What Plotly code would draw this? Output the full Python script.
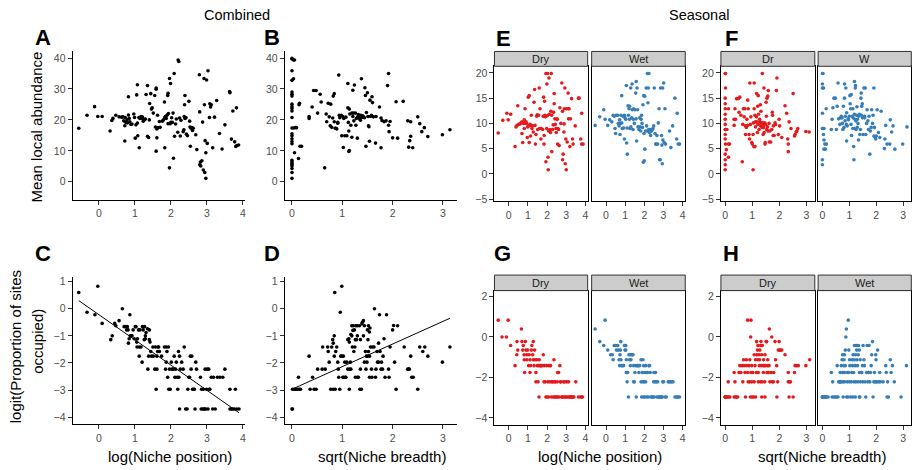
import plotly.graph_objects as go

# ---------------- data ----------------
# A: log(Niche position) vs Mean local abundance (combined)
a_x = [-0.56,-0.33,-0.12,-0.03,0.09,0.31,0.36,0.39,0.47,0.56,
       0.63,0.67,0.69,0.72,0.72,0.73,0.75,0.78,0.79,0.82,
       0.82,0.84,0.86,0.89,0.92,0.97,0.99,1.01,1.03,1.05,
       1.07,1.07,1.08,1.11,1.12,1.14,1.17,1.20,1.21,1.23,
       1.26,1.29,1.31,1.35,1.35,1.38,1.40,1.41,1.44,1.46,
       1.48,1.51,1.55,1.57,1.59,1.59,1.59,1.61,1.61,1.63,
       1.64,1.68,1.70,1.76,1.79,1.82,1.83,1.83,1.85,1.87,
       1.89,1.91,1.92,1.92,1.93,1.96,1.96,1.98,1.99,2.00,
       2.02,2.04,2.06,2.07,2.09,2.10,2.13,2.15,2.19,2.20,
       2.22,2.24,2.26,2.28,2.34,2.36,2.37,2.38,2.39,2.39,
       2.42,2.43,2.46,2.50,2.52,2.53,2.54,2.56,2.58,2.60,
       2.62,2.69,2.72,2.79,2.80,2.80,2.82,2.83,2.86,2.88,
       2.90,2.92,2.93,2.94,2.95,2.97,2.97,2.99,3.01,3.03,
       3.07,3.08,3.10,3.12,3.16,3.21,3.27,3.35,3.42,3.50,
       3.63,3.64,3.68,3.72,3.77,3.80,3.82,3.83,3.88]
a_y = [17.3,21.5,24.3,21.1,21.1,16.4,19.8,20.5,21.5,21.0,
       20.9,21.0,19.7,18.1,13.2,20.8,19.2,20.0,19.0,21.6,
       27.5,20.5,19.4,18.5,18.7,21.9,20.8,14.1,18.4,28.1,
       31.4,19.0,14.9,20.8,11.0,20.5,21.1,20.5,20.9,19.6,
       20.0,20.3,28.2,31.1,14.7,14.3,20.0,25.3,28.5,23.5,
       23.9,22.2,27.9,17.7,29.9,30.3,9.9,14.2,17.1,21.5,
       17.5,19.5,17.6,19.6,20.0,25.8,11.0,20.8,21.1,20.5,
       21.5,27.9,28.6,18.8,22.1,33.4,4.5,18.8,31.8,19.2,
       20.7,19.2,22.2,7.6,35.0,14.7,18.7,20.3,16.0,39.4,
       38.9,20.6,14.8,19.9,16.2,16.8,21.1,24.9,27.9,20.5,
       20.7,15.4,14.9,26.0,19.6,17.7,11.5,17.3,17.5,16.6,
       17.3,15.2,10.4,34.6,22.6,5.5,6.4,5.1,6.8,19.3,
       3.8,33.4,24.9,3.0,13.3,1.1,9.4,32.9,12.4,35.9,
       20.8,25.2,24.2,24.9,11.0,20.9,26.3,15.6,10.6,18.4,
       29.2,28.8,13.8,22.9,12.9,11.4,23.9,11.7,11.9]

# B: sqrt(Niche breadth) vs Mean local abundance (combined)
b_x = [0.0,0.0,0.03,0.05,0.0,0.0,0.03,0.0,0.0,0.0,
       0.0,0.0,0.0,0.0,0.0,0.0,0.03,0.07,0.09,0.0,
       0.0,0.0,0.0,0.0,0.05,0.0,0.0,0.0,0.0,0.0,
       0.0,0.0,0.0,0.15,0.14,0.16,0.19,0.13,0.34,0.34,
       0.40,0.43,0.48,0.51,0.56,0.58,0.65,0.68,0.69,0.72,
       0.74,0.76,0.77,0.79,0.81,0.82,0.84,0.84,0.86,0.87,
       0.89,0.91,0.91,0.93,0.94,0.95,0.98,0.99,1.01,1.02,
       1.03,1.05,1.07,1.09,1.11,1.11,1.12,1.13,1.13,1.14,
       1.14,1.15,1.17,1.19,1.19,1.21,1.21,1.22,1.23,1.24,
       1.26,1.27,1.28,1.30,1.31,1.32,1.34,1.35,1.36,1.37,
       1.38,1.39,1.40,1.42,1.44,1.45,1.46,1.47,1.48,1.50,
       1.51,1.52,1.53,1.54,1.55,1.56,1.58,1.59,1.60,1.62,
       1.66,1.67,1.74,1.77,1.77,1.79,1.83,1.87,1.90,1.92,
       1.92,1.93,1.95,2.00,2.07,2.10,2.21,2.30,2.32,2.34,
       2.36,2.36,2.40,2.50,2.54,2.58,2.63,2.70,2.99,3.14]
b_y = [39.9,39.7,39.4,39.4,35.9,32.8,33.3,29.0,28.3,27.7,
       25.1,24.3,23.7,22.9,20.8,17.4,17.4,17.5,17.5,15.5,
       14.9,13.9,13.0,12.3,9.4,6.9,6.4,5.9,5.5,5.1,
       4.3,3.0,1.1,25.4,24.9,11.5,11.5,7.5,21.1,20.5,
       24.2,29.5,29.5,22.2,28.3,25.8,4.5,21.9,19.4,25.4,
       21.0,18.1,25.1,17.6,20.6,27.7,28.5,19.4,17.3,17.3,
       17.1,18.9,19.2,34.5,21.5,20.7,21.5,14.9,21.1,11.1,
       20.5,14.9,20.9,14.9,31.8,23.9,19.2,16.4,9.8,10.1,
       23.5,21.9,18.3,22.2,14.4,21.1,29.6,22.2,19.7,31.3,
       22.2,18.3,20.5,14.1,21.1,21.7,20.5,21.1,19.9,21.5,
       33.3,20.8,21.3,21.1,20.7,30.4,27.9,11.5,22.4,28.8,
       21.1,18.1,17.8,13.1,26.4,21.1,21.5,27.5,25.6,21.0,
       12.5,21.1,24.2,20.6,11.0,19.8,19.4,19.7,31.1,18.3,
       35.0,16.2,19.5,14.2,25.9,14.1,26.0,19.7,11.2,13.3,
       19.4,14.7,11.0,21.0,18.8,16.2,17.5,14.6,15.2,16.8]

# C: log(Niche position) vs logit(occupancy) (combined)
c_x = [-0.56,-0.33,-0.11,-0.03,0.09,0.33,0.37,0.44,0.47,0.56,
       0.65,0.70,0.75,0.77,0.79,0.81,0.82,0.84,0.86,0.87,
       0.89,0.92,0.95,0.98,1.01,1.03,1.05,1.06,1.07,1.10,
       1.12,1.12,1.14,1.17,1.20,1.21,1.23,1.26,1.27,1.29,
       1.29,1.31,1.35,1.36,1.38,1.40,1.40,1.42,1.44,1.46,
       1.50,1.51,1.55,1.57,1.59,1.61,1.61,1.63,1.64,1.66,
       1.68,1.74,1.82,1.85,1.87,1.87,1.89,1.91,1.93,1.94,
       1.96,1.98,2.01,2.03,2.06,2.09,2.11,2.13,2.15,2.17,
       2.19,2.21,2.22,2.24,2.24,2.26,2.30,2.34,2.37,2.41,
       2.45,2.47,2.50,2.52,2.54,2.56,2.58,2.60,2.64,2.65,
       2.67,2.69,2.71,2.82,2.84,2.85,2.88,2.90,2.92,2.93,
       2.95,2.97,2.99,3.01,3.03,3.05,3.07,3.08,3.12,3.16,
       3.18,3.23,3.29,3.36,3.44,3.50,3.64,3.64,3.68,3.72,
       3.76,3.79,3.83,3.89]
c_y = [0.60,-0.13,-0.22,0.83,-0.54,-1.14,-1.0,-0.54,-0.63,-0.44,
       0.0,-0.66,-0.66,-0.78,-0.66,-0.78,-1.27,-1.11,-0.22,-1.0,
       -1.0,-1.0,-0.78,-1.11,-0.66,-0.66,-1.23,-1.41,-1.11,-0.78,
       -1.75,-1.41,-0.78,-1.41,-1.97,-0.66,-0.78,-1.14,-0.66,-1.0,
       -1.11,-0.88,-0.74,-2.23,-1.75,-0.78,-1.14,-1.23,-1.58,-1.75,
       -1.41,-1.75,-2.23,-1.41,-2.97,-2.23,-1.75,-1.58,-1.41,-1.41,
       -1.58,-1.75,-1.41,-2.23,-1.41,-1.97,-1.58,-2.53,-1.41,-2.97,
       -2.23,-2.97,-1.97,-2.23,-2.23,-1.75,-2.53,-2.23,-1.97,-2.53,
       -2.97,-1.58,-2.53,-1.75,-3.70,-2.23,-1.97,-2.23,-1.41,-3.70,
       -3.70,-2.97,-2.53,-2.53,-1.75,-2.23,-1.75,-2.97,-2.97,-2.97,
       -3.70,-1.97,-2.23,-2.53,-3.70,-2.97,-3.70,-2.97,-3.70,-3.70,
       -2.23,-3.70,-2.97,-2.23,-3.70,-2.23,-2.97,-2.97,-2.53,-3.70,
       -2.53,-3.70,-2.53,-2.53,-2.53,-2.23,-2.97,-3.70,-3.70,-3.70,
       -3.70,-2.97,-3.70,-3.70]
c_fit_intercept, c_fit_slope = -0.22, -0.93

# D: sqrt(Niche breadth) vs logit(occupancy) (combined)
d_x = [0.0,0.01,0.01,0.04,0.07,0.09,0.12,0.15,0.17,0.13,
       0.34,0.36,0.41,0.44,0.48,0.51,0.60,0.61,0.66,0.71,
       0.72,0.74,0.77,0.79,0.81,0.82,0.82,0.84,0.84,0.85,
       0.86,0.87,0.89,0.91,0.92,0.93,0.95,0.96,0.97,0.99,
       0.99,1.01,1.02,1.03,1.05,1.06,1.07,1.09,1.11,1.11,
       1.13,1.14,1.14,1.15,1.16,1.17,1.17,1.19,1.19,1.20,
       1.21,1.22,1.23,1.24,1.25,1.26,1.26,1.27,1.28,1.30,
       1.30,1.30,1.32,1.34,1.35,1.36,1.36,1.38,1.39,1.40,
       1.42,1.42,1.44,1.44,1.46,1.47,1.48,1.49,1.50,1.50,
       1.51,1.52,1.52,1.54,1.54,1.54,1.55,1.56,1.58,1.59,
       1.60,1.63,1.64,1.66,1.67,1.69,1.70,1.72,1.72,1.74,
       1.75,1.77,1.78,1.80,1.81,1.83,1.85,1.88,1.92,1.93,
       1.95,2.00,2.02,2.04,2.07,2.10,2.23,2.30,2.32,2.33,
       2.36,2.38,2.41,2.50,2.54,2.60,2.64,2.70,2.99,3.14]
d_y = [-3.70,-3.70,-2.97,-2.97,-2.97,-2.97,-2.97,-2.97,-2.97,-2.53,
       -1.75,-2.97,-2.53,-2.97,-2.97,-2.23,-2.23,-1.41,-2.23,-1.41,
       -1.58,-1.97,-2.97,-1.41,-1.14,-1.27,-2.97,-1.0,-1.75,0.60,
       -2.97,-1.58,-1.41,-1.97,-2.23,-2.53,-2.97,-0.13,-1.75,0.83,
       -1.75,-2.53,-1.75,-2.53,-1.97,-2.53,-2.53,-1.97,-1.14,-2.23,
       -1.11,-1.23,-2.97,-2.23,-1.97,-0.95,-2.23,-1.0,-0.63,-1.41,
       -0.80,-0.63,-1.58,-0.78,-1.41,-2.53,-1.14,-0.63,-1.14,-1.0,
       -2.53,-0.63,-2.53,-0.63,-2.97,-2.23,-1.14,-2.97,-0.56,-0.50,
       -0.44,-1.0,-0.63,-1.97,-1.58,-2.23,-1.75,-1.97,-1.75,-0.78,
       -1.14,-0.63,-1.58,-0.86,-2.53,-1.75,-0.71,-1.41,-2.23,-2.53,
       -1.41,-1.41,0.0,-2.53,-2.23,-1.58,-1.97,-1.27,-1.97,-0.22,
       -1.58,-2.23,-1.97,-2.23,-1.75,-1.11,-2.53,-0.22,-2.23,-2.53,
       -1.41,-0.78,-0.62,-1.97,-2.97,-0.63,-1.41,-2.23,-2.23,-2.23,
       -1.75,-2.53,-2.53,-2.97,-1.41,-1.58,-1.41,-1.75,-1.97,-1.41]
d_fit_intercept, d_fit_slope = -2.97, 0.834

# E: seasonal, log(Niche position) vs abundance
e_dry_x = [-0.55,-0.31,-0.10,-0.03,0.10,0.33,0.38,0.43,0.47,0.52,
           0.59,0.64,0.69,0.69,0.73,0.78,0.81,0.81,0.85,0.87,
           0.90,0.94,0.97,0.99,1.02,1.04,1.07,1.07,1.11,1.14,
           1.16,1.18,1.21,1.25,1.28,1.32,1.35,1.37,1.39,1.42,
           1.46,1.49,1.51,1.56,1.59,1.61,1.63,1.68,1.70,1.77,
           1.80,1.82,1.84,1.85,1.87,1.89,1.91,1.94,1.94,1.98,
           1.99,2.01,2.03,2.05,2.06,2.08,2.10,2.11,2.15,2.18,
           2.20,2.22,2.24,2.25,2.29,2.32,2.34,2.37,2.37,2.41,
           2.43,2.46,2.48,2.51,2.53,2.55,2.56,2.60,2.63,2.67,
           2.72,2.77,2.81,2.81,2.84,2.88,2.89,2.91,2.93,2.95,
           2.98,3.00,3.02,3.05,3.10,3.12,3.12,3.15,3.19,3.22,
           3.28,3.33,3.36,3.47,3.64,3.67,3.76,3.81,3.81,3.88]
e_dry_y = [8.1,10.6,12.0,10.7,11.8,5.4,9.3,9.6,13.5,9.8,
           9.9,10.1,10.3,8.0,6.2,10.0,10.7,9.0,12.9,10.1,
           10.3,10.0,7.2,9.3,15.2,9.5,15.5,6.2,9.8,7.5,
           9.6,11.6,9.0,9.5,8.3,14.2,16.7,9.6,5.9,7.8,
           11.4,11.7,8.8,11.6,17.0,9.0,12.9,6.9,9.0,8.8,
           11.4,15.2,5.9,7.6,14.4,11.6,11.3,2.4,19.9,9.0,
           17.8,11.5,19.9,3.3,0.8,8.5,19.0,11.8,8.8,8.2,
           12.4,19.9,11.6,4.4,8.8,9.7,12.2,15.9,13.9,10.9,
           9.8,9.0,8.2,10.9,10.8,5.9,9.0,8.8,5.6,13.1,
           10.0,18.0,12.4,2.8,3.9,8.3,9.9,12.9,17.0,2.0,
           6.9,0.8,12.9,6.3,16.0,12.9,10.9,12.9,5.4,10.9,
           14.9,6.9,5.9,9.5,15.0,15.0,6.9,12.0,5.9,5.9]
e_wet_x = [-0.57,-0.33,-0.12,-0.05,0.09,0.19,0.30,0.37,0.43,0.47,
           0.50,0.54,0.61,0.64,0.68,0.71,0.73,0.75,0.78,0.82,
           0.82,0.85,0.89,0.92,0.96,0.96,0.99,1.03,1.06,1.08,
           1.10,1.11,1.15,1.17,1.20,1.22,1.23,1.25,1.29,1.30,
           1.34,1.36,1.37,1.41,1.43,1.44,1.48,1.51,1.55,1.57,
           1.58,1.60,1.62,1.65,1.67,1.72,1.76,1.77,1.81,1.83,
           1.86,1.88,1.90,1.93,1.95,1.97,1.98,2.00,2.02,2.03,
           2.07,2.10,2.12,2.16,2.17,2.19,2.21,2.23,2.24,2.26,
           2.28,2.31,2.33,2.35,2.38,2.42,2.45,2.49,2.52,2.56,
           2.59,2.63,2.66,2.70,2.73,2.77,2.80,2.83,2.85,2.90,
           2.92,2.94,2.96,2.97,3.01,3.04,3.08,3.11,3.32,3.39,
           3.48,3.60,3.69,3.72,3.77,3.84]
e_wet_y = [9.6,11.3,12.7,10.8,9.6,10.7,10.3,11.6,11.4,9.0,
           8.0,11.6,11.6,10.0,9.5,10.7,7.8,10.0,11.6,10.1,
           15.5,9.0,11.4,9.1,11.6,6.9,11.1,10.8,17.5,6.1,
           9.1,3.9,13.5,11.6,12.9,10.8,13.4,9.0,17.0,9.3,
           11.1,17.8,12.7,8.8,10.8,12.9,10.0,12.7,16.0,10.9,
           18.3,6.5,17.0,12.7,9.3,8.8,11.1,9.3,8.5,10.8,
           11.6,10.0,9.2,13.7,2.3,15.5,8.0,2.6,15.4,4.9,
           8.5,17.0,9.5,19.9,8.5,14.1,17.0,8.8,19.9,8.2,
           8.8,8.3,7.6,8.8,8.5,8.8,9.0,9.5,17.0,8.0,
           5.9,5.9,7.6,5.9,10.1,12.9,2.8,2.8,17.0,7.6,
           5.7,2.0,17.0,6.7,18.0,6.2,12.9,5.9,8.5,5.2,
           9.5,15.0,6.9,12.0,5.9,5.9]

# F: seasonal, sqrt(Niche breadth) vs abundance
f_dry_x = [0.0,0.01,0.01,0.0,0.0,0.0,0.0,0.0,0.0,0.0,
           0.01,0.06,0.0,0.0,0.01,0.11,0.16,0.04,0.0,0.0,
           0.12,0.0,0.0,0.12,0.33,0.33,0.38,0.36,0.42,0.48,
           0.54,0.51,0.58,0.63,0.65,0.67,0.70,0.73,0.75,0.75,
           0.78,0.80,0.83,0.83,0.85,0.88,0.90,0.91,0.93,0.95,
           0.98,1.00,1.03,1.03,1.04,1.06,1.07,1.07,1.10,1.10,
           1.12,1.12,1.15,1.16,1.17,1.19,1.20,1.21,1.22,1.23,
           1.25,1.27,1.28,1.30,1.31,1.32,1.33,1.35,1.36,1.37,
           1.38,1.40,1.41,1.42,1.43,1.44,1.46,1.47,1.48,1.49,
           1.51,1.52,1.53,1.54,1.56,1.57,1.58,1.59,1.62,1.63,
           1.65,1.68,1.72,1.74,1.75,1.77,1.78,1.81,1.84,1.86,
           1.89,1.91,1.96,1.99,2.01,2.09,2.21,2.27,2.31,2.33,
           2.33,2.36,2.43,2.51,2.56,2.58,2.62,2.65,2.68,2.98,3.10]
f_dry_y = [19.9,19.9,17.0,15.0,13.9,12.9,11.8,10.8,9.8,8.8,
           8.8,8.8,7.8,6.9,5.9,5.9,5.9,4.8,3.9,2.8,
           3.3,1.8,0.8,12.9,9.6,10.8,10.8,12.9,14.9,14.9,
           15.2,12.2,11.6,2.4,9.8,12.9,11.3,12.9,9.5,7.8,
           9.2,10.8,14.6,9.6,12.9,7.8,6.9,18.0,9.8,11.3,
           6.2,5.9,7.8,0.8,10.1,5.4,12.9,18.0,5.4,11.6,
           10.3,9.3,11.3,15.9,10.3,8.2,13.4,9.8,15.5,11.8,
           8.8,10.8,10.3,13.7,9.5,12.4,10.1,10.0,9.2,19.9,
           10.1,7.8,9.8,9.2,17.0,8.2,10.1,5.9,6.2,9.8,
           14.2,11.4,8.8,15.0,9.3,15.4,8.5,16.5,10.0,6.3,
           8.5,6.3,8.8,12.2,11.6,7.6,9.5,7.6,10.1,9.8,
           16.5,19.0,7.8,10.8,9.5,7.2,13.5,12.0,6.9,5.9,
           4.4,10.3,9.0,15.9,7.5,7.8,8.3,8.5,9.0,8.4,8.3]
f_wet_x = [0.0,0.02,0.0,0.0,0.04,0.0,0.0,0.02,0.06,0.04,
           0.06,0.09,0.15,0.06,0.11,0.0,0.0,0.14,0.33,0.36,
           0.39,0.43,0.48,0.52,0.55,0.58,0.60,0.65,0.68,0.70,
           0.73,0.74,0.76,0.78,0.80,0.82,0.82,0.84,0.85,0.87,
           0.89,0.90,0.90,0.92,0.95,0.97,1.00,1.02,1.03,1.05,
           1.06,1.07,1.08,1.11,1.13,1.13,1.14,1.16,1.17,1.18,
           1.19,1.19,1.21,1.22,1.23,1.24,1.25,1.27,1.28,1.29,
           1.30,1.32,1.34,1.35,1.37,1.39,1.41,1.43,1.44,1.45,
           1.46,1.48,1.49,1.51,1.54,1.56,1.57,1.59,1.61,1.64,
           1.66,1.69,1.71,1.73,1.76,1.78,1.81,1.83,1.86,1.88,
           1.91,1.91,1.93,1.96,1.98,2.00,2.03,2.08,2.13,2.18,
           2.30,2.32,2.35,2.40,2.50,2.52,2.57,2.62,2.69,2.98,3.14]
f_wet_y = [19.9,19.9,17.8,17.0,17.0,12.0,9.0,9.0,9.0,7.8,
           6.7,5.9,5.9,4.9,4.9,2.8,1.8,12.9,8.8,10.8,
           13.1,15.0,15.0,8.8,13.4,18.0,10.9,9.8,11.1,11.4,
           11.1,10.0,8.8,13.4,9.2,17.8,15.0,10.5,11.4,17.0,
           9.8,12.1,6.5,9.5,10.9,10.7,11.4,15.5,13.9,12.9,
           9.8,15.7,7.6,11.4,9.0,12.9,11.1,5.4,2.8,9.0,
           11.8,18.3,10.8,17.0,17.5,10.5,8.8,11.6,13.3,9.2,
           10.8,10.0,6.7,11.4,11.8,7.8,8.8,15.0,16.0,11.6,
           13.4,13.9,11.1,7.8,17.0,11.4,11.1,17.0,7.8,10.0,
           12.7,10.5,8.8,11.4,3.9,8.5,9.2,12.7,10.0,11.6,
           17.0,7.5,9.2,7.2,6.9,7.5,12.7,8.2,7.2,12.4,
           5.0,6.9,9.6,5.9,5.9,10.7,8.3,9.5,4.9,5.9,9.3]

# G: seasonal, log(Niche position) vs logit(occupancy)
g_dry_x = [-0.55,-0.03,-0.35,-0.12,0.10,0.33,0.43,0.42,0.47,0.66,
           0.69,0.73,0.76,0.80,0.81,0.83,0.87,0.90,0.94,0.95,
           0.99,1.04,1.07,1.11,1.11,1.14,1.18,1.21,1.25,1.28,
           1.28,1.32,1.35,1.39,1.42,1.42,1.46,1.49,1.53,1.56,
           1.58,1.59,1.63,1.66,1.70,1.73,1.80,1.84,1.85,1.91,
           1.94,1.98,2.01,2.05,2.08,2.11,2.15,2.18,2.22,2.25,
           2.29,2.32,2.36,2.37,2.39,2.43,2.46,2.50,2.53,2.55,
           2.56,2.60,2.63,2.67,2.69,2.72,2.76,2.79,2.83,2.86,
           2.89,2.93,2.96,3.00,3.03,3.07,3.12,3.15,3.19,3.22,
           3.26,3.29,3.33,3.36,3.40,3.50,3.64,3.74,3.81,3.85]
g_dry_y = [0.83,0.83,0.0,0.0,-0.42,-1.42,-0.23,-0.88,-0.65,0.39,
           -0.23,-0.65,-0.42,-0.88,-1.13,-1.76,-0.23,-0.65,-0.88,-1.13,
           -0.65,-1.42,-0.88,-1.76,-1.13,-1.42,-0.65,-0.42,-0.88,-0.23,
           -1.13,-1.42,-0.65,-1.13,-1.76,-2.22,-1.13,-1.42,-2.22,-1.42,
           -2.97,-1.13,-1.42,-1.42,-1.42,-1.42,-0.88,-2.22,-1.42,-2.22,
           -2.97,-1.42,-2.97,-2.22,-2.97,-1.42,-2.22,-1.42,-2.97,-2.22,
           -2.22,-2.97,-1.13,-2.22,-2.97,-2.22,-2.97,-2.97,-2.22,-1.76,
           -2.97,-1.76,-2.97,-1.42,-2.22,-2.22,-2.97,-2.97,-2.97,-2.22,
           -2.97,-2.22,-2.97,-2.97,-2.22,-2.97,-2.22,-2.97,-2.97,-2.97,
           -2.97,-2.97,-2.97,-2.97,-2.97,-2.22,-2.97,-2.97,-2.97,-2.97]
g_wet_x = [-0.57,-0.05,-0.33,-0.12,0.09,0.24,0.33,0.37,0.43,0.50,
           0.54,0.57,0.61,0.64,0.68,0.71,0.73,0.75,0.77,0.78,
           0.82,0.85,0.92,0.96,0.99,1.03,1.03,1.06,1.06,1.10,
           1.10,1.13,1.17,1.20,1.23,1.27,1.27,1.30,1.34,1.37,
           1.41,1.44,1.44,1.48,1.51,1.55,1.58,1.62,1.65,1.69,
           1.72,1.76,1.83,1.83,1.86,1.90,1.93,1.93,1.97,1.97,
           2.00,2.00,2.03,2.07,2.07,2.10,2.14,2.17,2.21,2.24,
           2.28,2.31,2.35,2.38,2.42,2.45,2.49,2.50,2.52,2.56,
           2.59,2.63,2.66,2.70,2.73,2.77,2.80,2.83,2.87,2.90,
           2.94,2.97,3.01,3.08,3.15,3.25,3.29,3.36,3.43,3.50,
           3.60,3.67,3.74,3.77,3.84]
g_wet_y = [0.39,0.83,-0.23,-0.42,-0.65,-0.88,-0.88,-1.13,-0.42,-0.42,
           -0.65,-0.42,-0.42,-0.65,-1.13,-1.42,-0.88,-0.65,-0.23,-1.13,
           -1.42,-1.42,-1.42,-0.42,-0.65,-0.42,-0.65,-1.13,-1.76,-1.76,
           -2.22,-1.76,-2.97,-0.88,-1.13,-0.88,-1.42,-1.13,-0.88,-0.88,
           -0.88,-2.22,-1.42,-2.22,-1.76,-1.42,-2.97,-1.42,-1.42,-1.42,
           -1.76,-1.42,-1.13,-2.22,-2.97,-1.76,-1.13,-2.22,-1.42,-2.97,
           -1.76,-2.22,-2.97,-2.22,-1.42,-1.76,-2.97,-1.76,-2.97,-1.42,
           -1.42,-1.76,-2.97,-2.97,-2.97,-2.97,-2.22,-1.76,-2.97,-2.22,
           -1.76,-2.22,-2.97,-2.22,-2.97,-2.97,-2.97,-2.97,-2.97,-2.97,
           -2.97,-2.22,-2.22,-2.97,-2.97,-2.22,-2.22,-2.22,-2.22,-2.22,
           -2.97,-2.97,-2.97,-2.97,-2.97]

# H: seasonal, sqrt(Niche breadth) vs logit(occupancy)
h_dry_x = [0.0,0.0,0.0,0.01,0.04,0.06,0.09,0.11,0.14,0.17,
           0.33,0.36,0.38,0.42,0.46,0.33,0.51,0.54,0.58,0.63,
           0.65,0.68,0.70,0.73,0.75,0.78,0.79,0.83,0.83,0.85,
           0.88,0.90,0.91,0.93,0.94,0.95,0.95,0.98,0.98,1.00,
           1.02,1.05,1.07,1.07,1.10,1.12,1.12,1.15,1.16,1.17,
           1.19,1.20,1.21,1.22,1.22,1.25,1.26,1.27,1.28,1.30,
           1.31,1.32,1.33,1.35,1.35,1.36,1.37,1.40,1.41,1.42,
           1.44,1.46,1.47,1.47,1.49,1.51,1.53,1.54,1.57,1.57,
           1.59,1.62,1.63,1.65,1.69,1.72,1.74,1.78,1.79,1.84,
           1.86,1.90,1.91,1.94,1.96,1.99,2.01,2.04,2.09,2.21,
           2.33,2.33,2.36,2.38,2.41,2.51,2.56,2.58,2.65,2.70,2.98,3.12]
h_dry_y = [-2.97,-2.97,-2.97,-2.97,-2.97,-2.97,-2.97,-2.22,-2.97,-2.97,
           -2.97,-2.22,-2.97,-2.97,-2.97,-1.76,-1.76,-1.42,-1.76,-1.42,
           -2.22,-1.13,-1.42,-1.76,-2.97,-1.13,-1.42,-1.76,0.83,-2.22,
           -1.42,-2.22,-1.13,-2.97,0.0,-1.76,0.83,-1.42,-2.22,-2.97,
           -1.76,-2.97,-0.88,-2.22,-1.42,-1.13,-2.97,-1.76,-0.23,-0.88,
           -0.65,-1.13,-0.42,-1.76,-2.22,-0.88,-1.42,-1.13,-0.65,-2.22,
           -0.42,-0.23,-1.42,-0.88,-2.97,-2.22,-0.42,-1.42,-1.76,-1.13,
           -1.42,-2.22,-0.88,-2.97,-1.42,-0.23,-0.23,-1.76,-1.13,-1.42,
           -1.76,-1.42,0.39,-2.22,-1.76,0.0,-2.22,-2.22,-1.76,-0.23,
           -1.13,-1.42,-2.97,-2.22,-0.65,-0.23,-0.65,-0.65,-0.65,-0.88,
           -1.76,-2.22,-2.97,-2.22,-2.22,-2.97,-1.76,-1.42,-1.42,-1.42,-1.42,-1.13]
h_wet_x = [0.0,0.0,0.0,0.01,0.04,0.06,0.09,0.11,0.14,0.16,
           0.21,0.33,0.36,0.38,0.43,0.48,0.53,0.55,0.58,0.60,
           0.63,0.65,0.66,0.68,0.70,0.70,0.73,0.75,0.75,0.76,
           0.77,0.80,0.80,0.82,0.82,0.82,0.85,0.85,0.87,0.89,
           0.90,0.92,0.93,0.95,0.96,0.97,0.98,1.00,1.01,1.02,
           1.05,1.07,1.09,1.11,1.12,1.13,1.14,1.16,1.17,1.18,
           1.19,1.21,1.22,1.23,1.24,1.25,1.27,1.28,1.29,1.30,
           1.32,1.33,1.34,1.37,1.37,1.38,1.39,1.40,1.41,1.44,
           1.46,1.49,1.50,1.51,1.54,1.56,1.59,1.61,1.64,1.66,
           1.69,1.71,1.73,1.76,1.78,1.81,1.83,1.86,1.88,1.91,
           1.93,1.96,1.98,1.99,2.00,2.03,2.05,2.10,2.13,2.15,
           2.25,2.35,2.37,2.40,2.42,2.45,2.52,2.55,2.60,2.67,2.92,3.12]
h_wet_y = [-2.97,-2.97,-2.97,-2.97,-2.97,-2.97,-2.97,-2.97,-2.97,-2.97,
           -2.97,-1.76,-2.97,-2.22,-2.97,-2.97,-2.97,-1.42,-2.97,-2.22,
           -2.22,-2.22,-1.76,-2.22,-1.42,-2.22,-1.13,-0.88,-1.76,-2.22,
           -2.97,-1.13,-1.42,-0.88,-1.76,-2.22,-0.65,-1.42,0.0,0.39,
           -2.97,-2.22,-1.76,-2.97,0.83,-1.76,-0.65,-2.22,-1.13,-1.42,
           -2.97,-2.22,-1.76,-1.13,-1.42,-2.97,-0.88,-1.76,-2.22,-1.13,
           -0.42,-1.42,-2.97,-0.88,-2.22,-0.42,-0.65,-1.13,-0.42,-1.42,
           -2.22,-0.88,-0.42,-0.65,-2.97,-1.76,-2.97,-1.13,-2.22,-1.76,
           -1.76,-1.42,-2.22,-0.42,-1.13,-1.42,-2.22,-2.97,-1.76,-0.42,
           -2.22,-1.76,-0.42,-2.22,-1.76,-1.42,-0.88,-0.23,-2.97,-2.22,
           -1.76,-2.22,-0.88,-1.13,-2.22,-2.22,-0.65,-2.22,-1.76,-2.22,
           -2.22,-1.42,-1.76,-2.97,-2.22,-2.97,-1.13,-1.76,-1.42,-2.22,-2.97,-1.42]

season_labels_E = ["Dry", "Wet"]
season_labels_F = ["Dr", "W"]
season_labels_G = ["Dry", "Wet"]
season_labels_H = ["Dry", "Wet"]

# ---------------- layout helpers ----------------
W, H = 915, 470
FONT = "Liberation Sans, Arial, Helvetica, sans-serif"
RED, BLUE = "#E41A1C", "#377EB8"


def fx(px):
    return px / W


def fy(py):
    return 1 - py / H


fig = go.Figure()
layout = dict(
    width=W, height=H, margin=dict(l=0, r=0, t=0, b=0),
    paper_bgcolor="white", plot_bgcolor="white", showlegend=False,
    font=dict(family=FONT, color="black"),
)

# id, x-px, y-px, xrange, yrange, xticks, yticks, boxed, show y labels
panels = [
    (1, (72.7, 245), (50, 200), (-0.73, 4.05), (-5.86, 42.14), [0, 1, 2, 3, 4], [0, 10, 20, 30, 40], False, True),
    (2, (285, 458), (50, 200), (-0.145, 3.29), (-5.86, 42.14), [0, 1, 2, 3], [0, 10, 20, 30, 40], False, True),
    (3, (72.7, 245), (278, 427), (-0.73, 4.05), (-4.27, 1.17), [0, 1, 2, 3, 4], [-4, -3, -2, -1, 0, 1], False, True),
    (4, (285, 458), (278, 427), (-0.145, 3.29), (-4.27, 1.17), [0, 1, 2, 3], [-4, -3, -2, -1, 0, 1], False, True),
    (5, (495, 588.3), (65, 201.5), (-0.746, 4.12), (-5.45, 21.31), [0, 1, 2, 3, 4], [-5, 0, 5, 10, 15, 20], True, True),
    (6, (592.3, 686), (65, 201.5), (-0.752, 4.14), (-5.45, 21.31), [0, 1, 2, 3, 4], [-5, 0, 5, 10, 15, 20], True, False),
    (7, (721.7, 815.7), (65, 201.5), (-0.159, 3.31), (-5.45, 21.31), [0, 1, 2, 3], [-5, 0, 5, 10, 15, 20], True, True),
    (8, (819, 912.3), (65, 201.5), (-0.16, 3.30), (-5.45, 21.31), [0, 1, 2, 3], [-5, 0, 5, 10, 15, 20], True, False),
    (9, (495, 588.3), (291.7, 427.3), (-0.746, 4.12), (-4.34, 2.29), [0, 1, 2, 3, 4], [-4, -2, 0, 2], True, True),
    (10, (592.3, 686), (291.7, 427.3), (-0.752, 4.14), (-4.34, 2.29), [0, 1, 2, 3, 4], [-4, -2, 0, 2], True, False),
    (11, (721.7, 815.7), (291.7, 427.3), (-0.159, 3.31), (-4.34, 2.29), [0, 1, 2, 3], [-4, -2, 0, 2], True, True),
    (12, (819, 912.3), (291.7, 427.3), (-0.16, 3.30), (-4.34, 2.29), [0, 1, 2, 3], [-4, -2, 0, 2], True, False),
]

tickfont = dict(family=FONT, size=10.5, color="#4D4D4D")
for pid, (x0, x1), (y0, y1), xr, yr, xt, yt, boxed, ylab in panels:
    sfx = "" if pid == 1 else str(pid)
    common = dict(showgrid=False, zeroline=False, showline=True, linecolor="black",
                  linewidth=1, mirror=boxed, ticks="outside", ticklen=4, tickwidth=1,
                  tickcolor="#333333", tickfont=tickfont, fixedrange=True)
    layout["xaxis" + sfx] = dict(common, domain=[fx(x0), fx(x1)], range=list(xr),
                                 tickvals=xt, anchor="y" + sfx)
    ya = dict(common, domain=[fy(y1), fy(y0)], range=list(yr),
              tickvals=yt, anchor="x" + sfx)
    if not ylab:
        ya["showticklabels"] = False
        ya["ticks"] = ""
    layout["yaxis" + sfx] = ya


def add_points(pid, xs, ys, color, size=3.6):
    n = min(len(xs), len(ys))
    sfx = "" if pid == 1 else str(pid)
    fig.add_trace(go.Scatter(x=xs[:n], y=ys[:n], mode="markers",
                             xaxis="x" + sfx, yaxis="y" + sfx,
                             marker=dict(color=color, size=size, line=dict(width=0)),
                             hoverinfo="skip"))


def add_fit(pid, xs, intercept, slope):
    sfx = str(pid)
    lo, hi = min(xs), max(xs)
    fig.add_trace(go.Scatter(x=[lo, hi], y=[intercept + slope * lo, intercept + slope * hi],
                             mode="lines", xaxis="x" + sfx, yaxis="y" + sfx,
                             line=dict(color="black", width=1), hoverinfo="skip"))


add_points(1, a_x, a_y, "black")
add_points(2, b_x, b_y, "black")
add_points(3, c_x, c_y, "black")
add_fit(3, c_x, c_fit_intercept, c_fit_slope)
add_points(4, d_x, d_y, "black")
add_fit(4, d_x, d_fit_intercept, d_fit_slope)
add_points(5, e_dry_x, e_dry_y, RED)
add_points(6, e_wet_x, e_wet_y, BLUE)
add_points(7, f_dry_x, f_dry_y, RED)
add_points(8, f_wet_x, f_wet_y, BLUE)
add_points(9, g_dry_x, g_dry_y, RED)
add_points(10, g_wet_x, g_wet_y, BLUE)
add_points(11, h_dry_x, h_dry_y, RED)
add_points(12, h_wet_x, h_wet_y, BLUE)

# ---------------- strips, titles, labels ----------------
shapes, annotations = [], []
strips = [
    ((495, 588.3), (50, 65), season_labels_E[0]), ((592.3, 686), (50, 65), season_labels_E[1]),
    ((721.7, 815.7), (50, 65), season_labels_F[0]), ((819, 912.3), (50, 65), season_labels_F[1]),
    ((495, 588.3), (276, 291.7), season_labels_G[0]), ((592.3, 686), (276, 291.7), season_labels_G[1]),
    ((721.7, 815.7), (276, 291.7), season_labels_H[0]), ((819, 912.3), (276, 291.7), season_labels_H[1]),
]
for (x0, x1), (y0, y1), lab in strips:
    shapes.append(dict(type="rect", xref="paper", yref="paper",
                       x0=fx(x0), x1=fx(x1), y0=fy(y1), y1=fy(y0),
                       fillcolor="#CCCCCC", line=dict(color="#333333", width=1), layer="above"))
    annotations.append(dict(text=lab, xref="paper", yref="paper",
                            x=fx((x0 + x1) / 2), y=fy((y0 + y1) / 2),
                            xanchor="center", yanchor="middle", showarrow=False,
                            font=dict(family=FONT, size=11, color="#1A1A1A")))


def label(text, px, py, size, angle=0, bold=False, color="black"):
    t = f"<b>{text}</b>" if bold else text
    annotations.append(dict(text=t, xref="paper", yref="paper", x=fx(px), y=fy(py),
                            xanchor="center", yanchor="middle", showarrow=False,
                            textangle=angle, font=dict(family=FONT, size=size, color=color)))


label("Combined", 237, 13, 14.5)
label("Seasonal", 700, 13, 14.5)
for letter, px, py in [("A", 43, 36), ("B", 272, 36), ("C", 43, 254), ("D", 272, 254),
                       ("E", 504, 37), ("F", 732, 37), ("G", 503, 254), ("H", 732, 254)]:
    label(letter, px, py, 22, bold=True)

label("Mean local abundance", 37, 126, 15, angle=-90)
label("logit(Proportion of sites", 15, 348, 15, angle=-90)
label("occupied)", 37.5, 343, 15, angle=-90)
label("log(Niche position)", 170, 459, 15)
label("sqrt(Niche breadth)", 382, 459, 15)
label("log(Niche position)", 601, 459, 15)
label("sqrt(Niche breadth)", 823, 459, 15)

layout["shapes"] = shapes
layout["annotations"] = annotations
fig.update_layout(**layout)
fig.write_html("out.html", config={"displayModeBar": False, "staticPlot": True},
               post_script="document.body.style.margin='0';document.body.style.overflow='hidden';")
